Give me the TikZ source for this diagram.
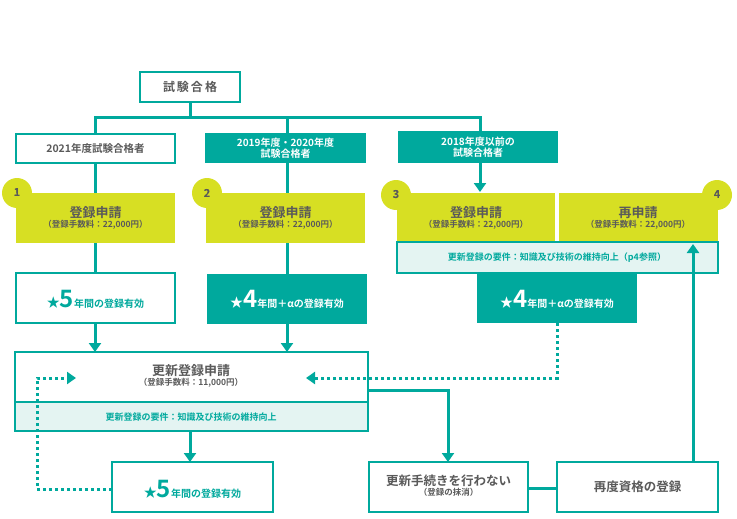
\documentclass[tikz,border=0pt]{standalone}
\usepackage{fontspec}
\setmainfont{Noto Sans CJK JP}[BoldFont={* Bold}]
\newfontfamily\jpb{Noto Sans CJK JP Bold}
\usetikzlibrary{arrows.meta}
\definecolor{tl}{HTML}{00A99D}
\definecolor{yg}{HTML}{D7DF23}
\definecolor{lt}{HTML}{E4F4F2}
\definecolor{gt}{HTML}{5A5A5A}
\begin{document}
\begin{tikzpicture}[x=1pt,y=-1pt,
 wbox/.style={draw=tl,line width=1.5pt,fill=white,text=gt,font=\jpb},
 tbox/.style={fill=tl,text=white,font=\jpb},
 ybox/.style={fill=yg,text=gt,font=\jpb},
 con/.style={draw=tl,line width=3pt},
 arr/.style={con,-{Triangle[length=9pt,width=12pt]}},
 dot/.style={draw=tl,line width=3pt,dash pattern=on 3pt off 3pt},
 darr/.style={dot,-{Triangle[length=9pt,width=12pt]}},
 circ/.style={circle,fill=yg,minimum size=30pt,inner sep=0pt,text=gt,font=\jpb\fontsize{11}{11}\selectfont}]
\useasboundingbox (0,0) rectangle (737,519);
\def\bx#1#2#3#4#5#6{\path[#6] (#2,#3) rectangle (#4,#5); \coordinate (#1) at ({(#2+#4)/2},{(#3+#5)/2});}
% top
\draw[wbox] (140,72) rectangle (240,102);
\node[text=gt,font=\jpb\fontsize{12}{12}\selectfont] (top) at (190,87) {試\,験\,合\,格};
\coordinate (hl) at (95,118); \coordinate (hr) at (480,118); \coordinate (tb) at (190,102);
\draw[con] (tb) -- (190,118);
\draw[con,line cap=rect] (hl) -- (hr);
% row 1
\draw[con] (hl) -- (95,193);
\draw[con] (287,118) -- (287,193);
\draw[wbox] (16,134) rectangle (175,163);
\node[text=gt,font=\jpb\fontsize{10.5}{12}\selectfont] (a1) at (95.5,148.5) {2021年度試験合格者};
\fill[tl] (205,133) rectangle (366,163);
\node[text=white,font=\jpb\fontsize{10}{11}\selectfont,align=center] (a2) at (285.5,148) {2019年度・2020年度\\試験合格者};
\draw[con] (hr) -- (480,133);
\fill[tl] (398,131) rectangle (558,163);
\node[text=white,font=\jpb\fontsize{10}{11}\selectfont,align=center] (a3) at (478,147) {2018年度以前の\\試験合格者};
\coordinate (a3b) at (480,163); \coordinate (y3t) at (480,192);
\draw[arr] (a3b) -- (y3t);
% yellow
\node[circ] (c1) at (17,193) {1};
\node[circ] (c2) at (207,193) {2};
\node[circ] (c3) at (396,195) {3};
\node[circ] (c4) at (717,195) {4};
\fill[yg] (16,193) rectangle (175,243);
\fill[yg] (206,193) rectangle (365,243);
\fill[yg] (397,193) rectangle (555,242);
\fill[yg] (559,193) rectangle (718,242);
\node[circ,fill=none] at (17,193) {1};
\node[circ,fill=none] at (207,193) {2};
\node[circ,fill=none] at (396,195) {3};
\node[circ,fill=none] at (717,195) {4};
\foreach \n/\x/\y/\t in {y1/95.5/218/登録申請,y2/285.5/218/登録申請,y3/476/218/登録申請,y4/638/218/再申請}{
 \node[text=gt,font=\jpb,align=center] (\n) at (\x,\y) {{\fontsize{13}{15}\selectfont \t}\\[-2pt]{\fontsize{8.5}{10}\selectfont （登録手数料：22,000円）}};}
\draw[draw=tl,line width=1.5pt,fill=lt] (397,242) rectangle (718,273);
\node[text=tl,font=\jpb\fontsize{9}{10}\selectfont] (req1) at (557,258) {更新登録の要件：知識及び技術の維持向上（p4参照）};
% row validity
\draw[con] (95,243) -- (95,273);
\draw[con] (287,243) -- (287,274);
\draw[wbox] (16,273) rectangle (175,323);
\node[text=tl,font=\jpb] (v1) at (95.5,299) {\fontsize{13}{13}\selectfont★\fontsize{24}{24}\selectfont 5\fontsize{10}{10}\selectfont 年間の登録有効};
\fill[tl] (207,274) rectangle (367,324);
\node[text=white,font=\jpb] (v2) at (287,299) {\fontsize{13}{13}\selectfont★\fontsize{24}{24}\selectfont 4\fontsize{10}{10}\selectfont 年間＋αの登録有効};
\fill[tl] (477,274) rectangle (637,323);
\node[text=white,font=\jpb] (v3) at (557,299) {\fontsize{13}{13}\selectfont★\fontsize{24}{24}\selectfont 4\fontsize{10}{10}\selectfont 年間＋αの登録有効};
% renewal
\coordinate (v1b) at (95,323); \coordinate (v2b) at (287,324);
\draw[wbox] (15,352) rectangle (368,402);
\draw[draw=tl,line width=1.5pt,fill=lt] (15,402) rectangle (368,431);
\node[text=gt,font=\jpb,align=center] (ren) at (191,376) {{\fontsize{13}{15}\selectfont 更新登録申請}\\[-2pt]{\fontsize{8.5}{10}\selectfont （登録手数料：11,000円）}};
\node[text=tl,font=\jpb\fontsize{9}{10}\selectfont] (req2) at (191,417) {更新登録の要件：知識及び技術の維持向上};
\draw[arr] (v1b) -- (95,352);
\draw[arr] (v2b) -- (287,352);
% bottom boxes
\draw[wbox] (112,462) rectangle (273,512);
\node[text=tl,font=\jpb] (v4) at (192.5,489) {\fontsize{13}{13}\selectfont★\fontsize{24}{24}\selectfont 5\fontsize{10}{10}\selectfont 年間の登録有効};
\draw[wbox] (369,462) rectangle (528,512);
\node[text=gt,font=\jpb,align=center] (nr) at (448.5,486) {{\fontsize{12.5}{14}\selectfont 更新手続きを行わない}\\[-2pt]{\fontsize{8.5}{10}\selectfont （登録の抹消）}};
\draw[wbox] (557,462) rectangle (718,512);
\node[text=gt,font=\jpb\fontsize{12.5}{14}\selectfont] (rr) at (637.5,487) {再度資格の登録};
\draw[arr] (190,431) -- (190,462);
\draw[arr] (368,390) -- (448,390) -- (448,462);
\draw[con] (528,488) -- (557,488);
\draw[arr] (693,462) -- (693,244);
% dotted
\draw[darr] (557,323) -- (557,378) -- (306,378);
\draw[darr] (112,489) -- (37,489) -- (37,378) -- (76,378);
\end{tikzpicture}
\end{document}
